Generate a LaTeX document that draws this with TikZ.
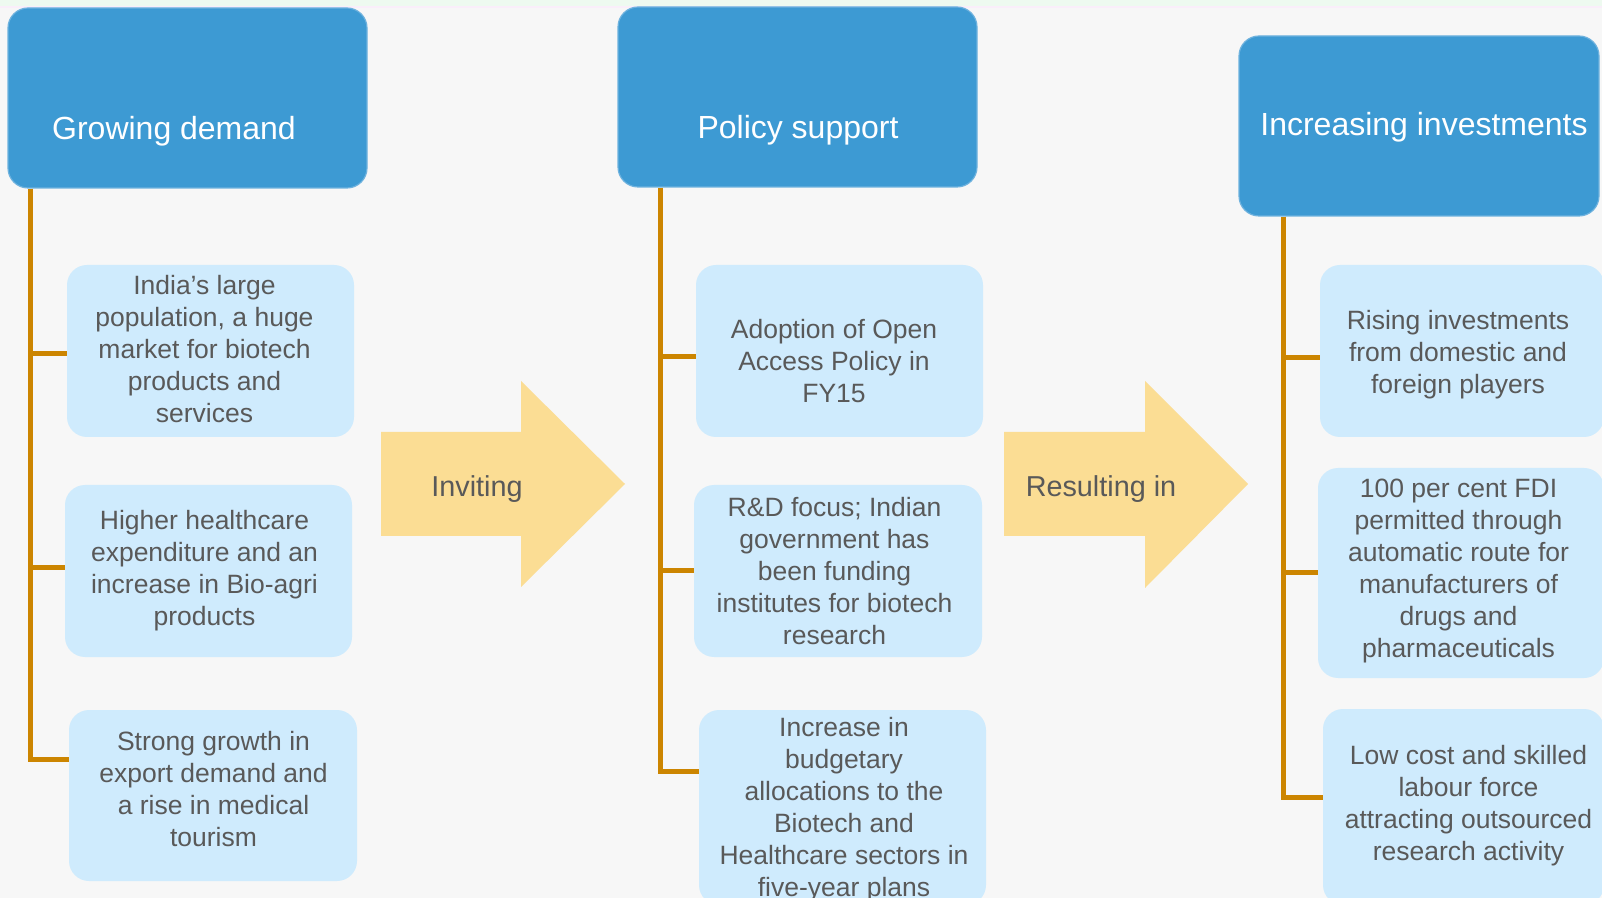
\documentclass[tikz,border=0pt]{standalone}
\usepackage{fontspec}
\setmainfont{Liberation Sans}
\definecolor{pagebg}{RGB}{247,247,247}
\definecolor{topband}{RGB}{238,250,240}
\definecolor{topline}{RGB}{250,238,250}
\definecolor{hdrblue}{RGB}{61,154,211}
\definecolor{hdredge}{RGB}{110,178,222}
\definecolor{cardblue}{RGB}{207,235,253}
\definecolor{arrowyellow}{RGB}{251,221,148}
\definecolor{branchorange}{RGB}{204,133,0}
\definecolor{txtgray}{RGB}{89,89,89}
\begin{document}
\begin{tikzpicture}[x=0.5pt,y=-0.5pt,
  hdr/.style={fill=hdrblue, draw=hdredge, line width=0.6pt, rounded corners=10pt, inner sep=0pt},
  card/.style={fill=cardblue, rounded corners=10pt, inner sep=0pt},
  hdrtext/.style={text=white, font=\fontsize{16pt}{19.2pt}\selectfont, inner sep=0pt, anchor=base},
  arrowtext/.style={text=txtgray, font=\fontsize{14.4pt}{17.3pt}\selectfont, inner sep=0pt, anchor=base},
  cardtext/.style={text=txtgray, font=\fontsize{13.25pt}{16pt}\selectfont, align=center, inner sep=0pt,
    execute at begin node=\strut, execute at end node=\strut},
  branch/.style={draw=branchorange, line width=2.5pt},
  bigarrow/.style={fill=arrowyellow}
]
% page
\useasboundingbox (0,0) rectangle (1602,898);
\fill[pagebg] (0,0) rectangle (1602,898);
\fill[topband] (0,0) rectangle (1602,7);
\fill[topline] (0,6) rectangle (1602,8);

% column headers
\node[hdr, minimum width=179.5pt, minimum height=90pt] (h1) at (187.5,98) {};
\node[hdr, minimum width=179.5pt, minimum height=90pt] (h2) at (797.5,97) {};
\node[hdr, minimum width=180pt, minimum height=90pt] (h3) at (1419,126) {};
\node[hdrtext] (h1t) at (174,140) {Growing demand};
\node[hdrtext] (h2t) at (798,139) {Policy support};
\node[hdrtext] (h3t) at (1424,136) {Increasing investments};

% spine tops, just under each header
\coordinate (s1) at ([xshift=11.5pt]h1.south west);
\coordinate (s2) at ([xshift=21.5pt]h2.south west);
\coordinate (s3) at ([xshift=22.5pt]h3.south west);

% detail cards
\node[card, minimum width=143.5pt, minimum height=86pt] (l1) at (210.5,351) {};
\node[card, minimum width=143.5pt, minimum height=86pt] (l2) at (208.5,571) {};
\node[card, minimum width=144pt, minimum height=85.5pt] (l3) at (213,795.5) {};
\node[card, minimum width=143.5pt, minimum height=86pt] (m1) at (839.5,351) {};
\node[card, minimum width=144pt, minimum height=86pt] (m2) at (838,571) {};
\node[card, minimum width=143.5pt, minimum height=97.5pt] (m3) at (842.5,807.5) {};
\node[card, minimum width=142pt, minimum height=86pt] (r1) at (1462,351) {};
\node[card, minimum width=143pt, minimum height=105pt] (r2) at (1461,573) {};
\node[card, minimum width=140.5pt, minimum height=98pt] (r3) at (1463.5,807) {};

% spines with their branches
\draw[branch] (s1) |- ([yshift=18.25pt]l3.west);
\draw[branch] ([yshift=-1.5pt]l1.west) -| (s1);
\draw[branch] ([yshift=1.5pt]l2.west) -| (s1);

\draw[branch] (s2) |- ([yshift=18.25pt]m3.west);
\draw[branch] ([yshift=-3pt]m1.west) -| (s2);
\draw[branch] (m2.west) -| (s2);

\draw[branch] (s3) |- ([yshift=5pt]r3.west);
\draw[branch] ([yshift=-3.5pt]r1.west) -| (s3);
\draw[branch] (r2.west) -| (s3);

% card texts
\node[cardtext] (l1t) at (204.5,353.6) {India’s large\\population, a huge\\market for biotech\\products and\\services};
\node[cardtext] (l2t) at (204.5,572.6) {Higher healthcare\\expenditure and an\\increase in Bio-agri\\products};
\node[cardtext] (l3t) at (213.5,793.6) {Strong growth in\\export demand and\\a rise in medical\\tourism};
\node[cardtext] (m1t) at (834,365.6) {Adoption of Open\\Access Policy in\\FY15};
\node[cardtext] (m2t) at (834.5,575.6) {R\&D focus; Indian\\government has\\been funding\\institutes for biotech\\research};
\node[cardtext] (m3t) at (844,811.6) {Increase in\\budgetary\\allocations to the\\Biotech and\\Healthcare sectors in\\five-year plans};
\node[cardtext] (r1t) at (1458,356.6) {Rising investments\\from domestic and\\foreign players};
\node[cardtext] (r2t) at (1458.5,572.6) {100 per cent FDI\\permitted through\\automatic route for\\manufacturers of\\drugs and\\pharmaceuticals};
\node[cardtext] (r3t) at (1468.5,807.6) {Low cost and skilled\\labour force\\attracting outsourced\\research activity};

% block arrows between the columns
\fill[bigarrow] (381,432) -- (521,432) -- (521,381) -- (625,484) -- (521,587) -- (521,536) -- (381,536) -- cycle;
\fill[bigarrow] (1004,432) -- (1145,432) -- (1145,381) -- (1248,484) -- (1145,588) -- (1145,536) -- (1004,536) -- cycle;
\node[arrowtext] (a1t) at (477,497) {Inviting};
\node[arrowtext] (a2t) at (1101,497) {Resulting in};
\end{tikzpicture}
\end{document}
